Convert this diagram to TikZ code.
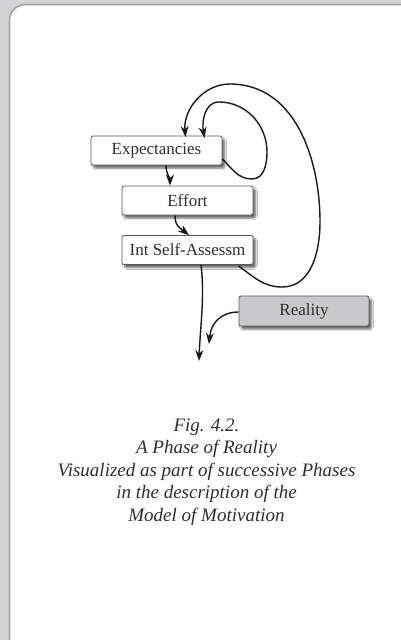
\documentclass[tikz,border=0pt]{standalone}
\usepackage{fontspec}
\setmainfont{Liberation Serif}
\usetikzlibrary{arrows.meta,shadows.blur}
\definecolor{pagegray}{HTML}{D2D3D5}
\definecolor{framegray}{HTML}{A2A3A5}
\definecolor{inkgray}{HTML}{2E2E2E}
\definecolor{realityfill}{HTML}{C9C9CB}
\tikzset{
  phasebox/.style={draw=inkgray!80, line width=0.8pt, rounded corners=2pt,
    fill=white, minimum width=131pt, minimum height=29pt, inner sep=0pt,
    text=inkgray, font=\fontsize{17}{20}\selectfont,
    blur shadow={shadow xshift=2.5pt, shadow yshift=-3pt, shadow blur steps=6, shadow opacity=60}},
  flow/.style={draw=black!90, line width=1.4pt, -{Stealth[length=11pt,width=8pt,inset=3.5pt]}},
}
\begin{document}
\begin{tikzpicture}[x=1pt,y=-1pt]
  \useasboundingbox (0,0) rectangle (401,640);
  \clip (0,0) rectangle (401,640);
  % page and card
  \fill[pagegray] (0,0) rectangle (401,640);
  \draw[framegray, line width=1.6pt, fill=white, rounded corners=16pt] (9.5,4.5) rectangle (430,670);

  % boxes
  \node[phasebox] (exp) at (156.5,150.5) {Expectancies};
  \node[phasebox] (eff) at (187.5,200.5) {Effort};
  \node[phasebox] (isa) at (187.5,250) {Int Self-Assessm};
  \node[phasebox, fill=realityfill, minimum width=130pt, minimum height=30pt] (rea) at (304,311) {Reality};

  % free ends
  \coordinate (out1) at (199,361);
  \coordinate (out2) at (209,344);
  \coordinate (in1) at (204.5,138);
  \coordinate (in2) at (185.5,137);

  % straight chain
  \draw[flow] (exp.south -| 166,0) .. controls (166,174) and (170,178) .. (eff.north -| 170,0);
  \draw[flow] (eff.south -| 175,0) .. controls (175,226) and (180,228) .. (isa.north -| 189,0);

  % inner loop back to Expectancies
  \draw[flow] (exp.east |- 0,159) to[out=-45,in=180] (252,179)
      to[out=0,in=-90] (267,152) to[out=90,in=0] (219,102)
      to[out=180,in=100] (in1);

  % outer loop back to Expectancies
  \draw[flow] (isa.south east) ++(-15,1) to[out=-35,in=180] (282,287)
      to[out=0,in=-90] (320,222) to[out=90,in=0] (230,84)
      to[out=180,in=95] (in2);

  % leaving arrows
  \draw[flow] (isa.south -| 201,0) .. controls (205,295) and (200,330) .. (out1);
  \draw[flow] (rea.west |- 0,312) .. controls (222,312) and (211,322) .. (out2);

  % caption
  \node[text=inkgray, font=\fontsize{19}{22.5}\selectfont\itshape, align=center] (cap) at (206.5,472)
    {Fig. 4.2.\\A Phase of Reality\\Visualized as part of successive Phases\\in the description of the\\Model of Motivation};
\end{tikzpicture}
\end{document}
